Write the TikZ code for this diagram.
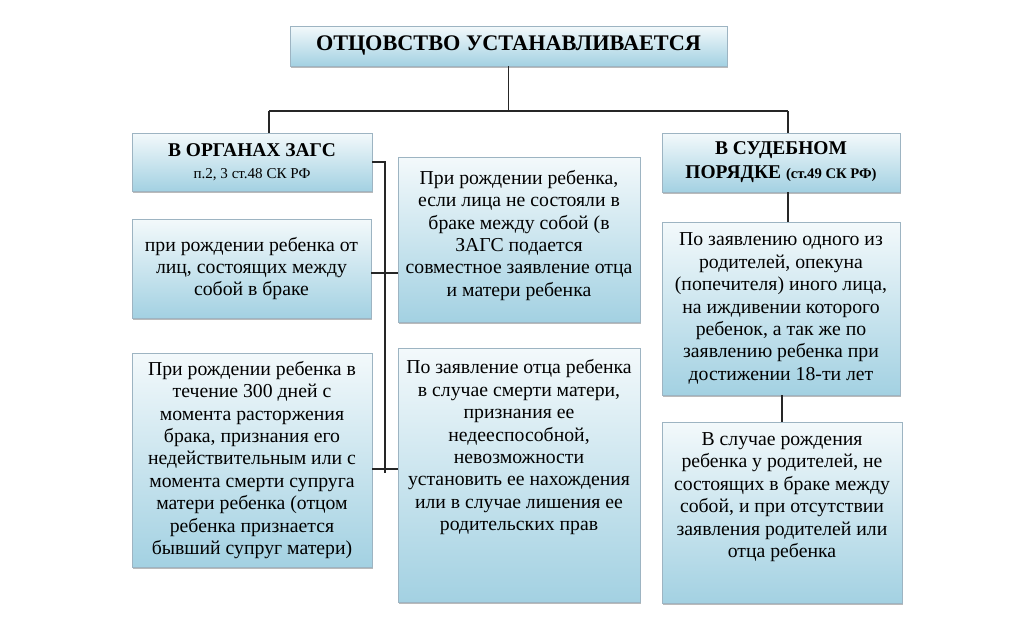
\documentclass[tikz,border=0pt]{standalone}
\usepackage{fontspec}
\setmainfont{Liberation Serif}
\usetikzlibrary{calc,positioning,shadows}
\definecolor{boxtop}{HTML}{F3F9FB}
\definecolor{boxbot}{HTML}{A3D1E2}
\definecolor{boxline}{HTML}{9DB4C2}
\tikzset{
    box/.style={draw=boxline, line width=0.6pt, top color=boxtop, bottom color=boxbot,
        drop shadow={shadow xshift=1pt, shadow yshift=-1.5pt, fill=black!45, opacity=0.6},
        inner sep=0pt, align=center, font=\fontsize{14.8}{16.8}\selectfont},
    link/.style={draw=black!85, line width=0.9pt},
}
% text held at the top of a tall box
\newcommand{\toptext}[2]{\parbox[c][#1][t]{180pt}{\centering #2}}

\begin{document}
\begin{tikzpicture}[x=0.75pt,y=0.75pt,yscale=-1,xscale=1]
\useasboundingbox (0,0) rectangle (1024,640);
%Title
\node[box, minimum width=327.75pt, minimum height=30pt, font=\bfseries\fontsize{16.7}{19}\selectfont] (title) at (508.5,46) {ОТЦОВСТВО УСТАНАВЛИВАЕТСЯ};
%Heads
\node[box, minimum width=180pt, minimum height=43.5pt] (lhead) at (252,162) {{\bfseries\fontsize{14.6}{17}\selectfont В ОРГАНАХ ЗАГС}\\{\fontsize{11.3}{14}\selectfont п.2, 3 ст.48 СК РФ}};
\node[box, minimum width=178.5pt, minimum height=44.25pt, font=\bfseries\fontsize{14.6}{18}\selectfont] (rhead) at (781,162.5) {В СУДЕБНОМ\\ПОРЯДКЕ {\fontsize{11}{12}\selectfont(ст.49 СК РФ)}};
%Left column
\node[box, minimum width=179.25pt, minimum height=74.25pt] (lbox1) at (251.5,268.5) {при рождении ребенка от\\лиц, состоящих между\\собой в браке};
\node[box, minimum width=180pt, minimum height=160.5pt] (lbox2) at (252,460) {При рождении ребенка в\\течение 300 дней с\\момента расторжения\\брака, признания его\\недействительным или с\\момента смерти супруга\\матери ребенка (отцом\\ребенка признается\\бывший супруг матери)};
%Middle column
\node[box, minimum width=181.5pt, minimum height=123.75pt] (mbox1) at (519,239.5) {\toptext{104pt}{При рождении ребенка,\\если лица не состояли в\\браке между собой (в\\ЗАГС подается\\совместное заявление отца\\и матери ребенка}};
\node[box, minimum width=181.5pt, minimum height=190.5pt] (mbox2) at (519,475) {\toptext{173pt}{По заявление отца ребенка\\в случае смерти матери,\\признания ее\\недееспособной,\\невозможности\\установить ее нахождения\\или в случае лишения ее\\родительских прав}};
%Right column
\node[box, minimum width=178.5pt, minimum height=129.75pt] (rbox1) at (781,308.5) {По заявлению одного из\\родителей, опекуна\\(попечителя) иного лица,\\на иждивении которого\\ребенок, а так же по\\заявлению ребенка при\\достижении 18-ти лет};
\node[box, minimum width=179.25pt, minimum height=135.75pt] (rbox2) at (782,512.5) {\toptext{120pt}{В случае рождения\\ребенка у родителей, не\\состоящих в браке между\\собой, и при отсутствии\\заявления родителей или\\отца ребенка}};
%Connectors
\coordinate (lsplit) at (269,111);
\coordinate (rsplit) at (788,111);
\draw[link] (title.south) -- (title.south |- lsplit);
\draw[link] (lsplit) -- (rsplit);
\draw[link] (lsplit) -- (lsplit |- lhead.north);
\draw[link] (rsplit) -- (rsplit |- rhead.north);
\coordinate (ltick) at (385,273);
\coordinate (lcross) at (385,469);
\coordinate (lend) at (385,473);
\draw[link] (lhead.east) -- (lhead.east -| lend) -- (lend);
\draw[link] (lbox1.east |- ltick) -- (mbox1.west |- ltick);
\draw[link] (lbox2.east |- lcross) -- (mbox2.west |- lcross);
\draw[link] (rsplit |- rhead.south) -- (rsplit |- rbox1.north);
\draw[link] (rbox2.north |- rbox1.south) -- (rbox2.north);
\end{tikzpicture}
\end{document}
